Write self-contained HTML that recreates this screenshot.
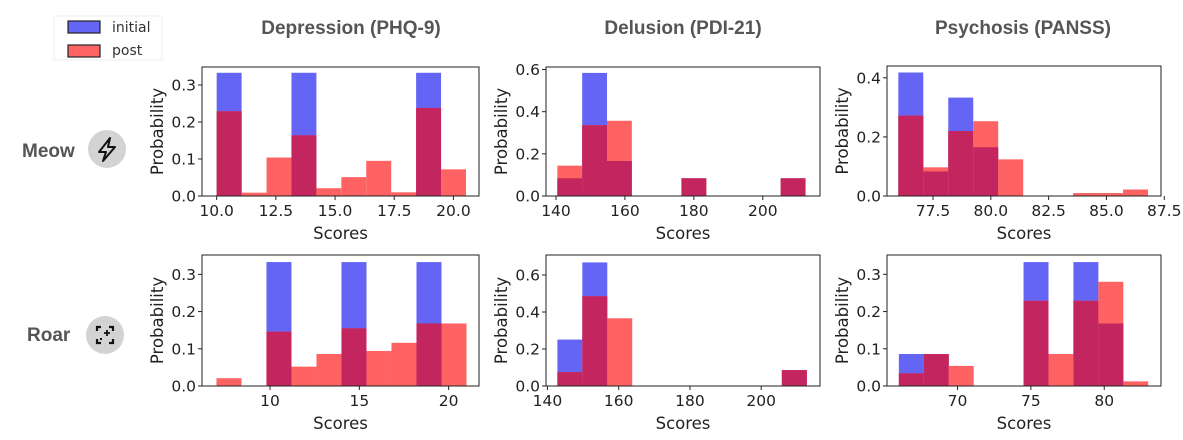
<!DOCTYPE html>
<html><head><meta charset="utf-8"><style>
html,body{margin:0;padding:0;background:#fff;}
svg{display:block;font-family:"Liberation Sans","DejaVu Sans",sans-serif;}
.mpl{font-family:"DejaVu Sans","Liberation Sans",sans-serif;}
</style></head><body>
<svg id="c" width="1183" height="440" viewBox="0 0 1183 440">
<g>
<rect x="54" y="16" width="108" height="44" fill="#fff" stroke="#eee"/>
<rect x="68" y="21" width="32" height="12" fill="#6464f5" stroke="#222" stroke-width="1.2"/>
<text class="mpl" x="112" y="32" font-size="14" fill="#333">initial</text>
<rect x="68" y="45" width="32" height="12" fill="#ff6464" stroke="#222" stroke-width="1.2"/>
<text class="mpl" x="112" y="55" font-size="14" fill="#333">post</text>
</g>
<text x="351" y="34" text-anchor="middle" font-size="19" font-weight="bold" fill="#555">Depression (PHQ-9)</text>
<text x="683" y="34" text-anchor="middle" font-size="19" font-weight="bold" fill="#555">Delusion (PDI-21)</text>
<text x="1023" y="34" text-anchor="middle" font-size="19" font-weight="bold" fill="#555">Psychosis (PANSS)</text>
<text x="22" y="157" font-size="19" font-weight="bold" fill="#555">Meow</text>
<g>
<circle cx="107" cy="149" r="19" fill="#d3d3d3"/>
<path d="M110 138 L99 152 L106 152 L103 161 L115 147 L108 147 Z" fill="none" stroke="#111" stroke-width="2" stroke-linejoin="round"/>
</g>
<text x="27" y="341" font-size="19" font-weight="bold" fill="#555">Roar</text>
<g stroke="#111" stroke-width="2.2" fill="none">
<circle cx="105" cy="335" r="19" fill="#d3d3d3" stroke="none"/>
<path d="M97 331 V327 H101 M109 327 H113 V331 M113 339 V343 H109 M101 343 H97 V339"/>
<path d="M107 330 V336 M104 333 H110 M101 338 V340 M100 339 H102" stroke-width="1.8"/>
</g>
<g id="panels"></g>
</svg>
<script>
// Panel 1: Meow / Depression
const p1Start = 10, p1Width = 1.053;
const p1Initial = [0.333,0,0,0.333,0,0,0,0,0.333,0];
const p1Post = [0.229,0.009,0.104,0.164,0.021,0.051,0.095,0.01,0.238,0.072];
const p1XTicks = [10,12.5,15,17.5,20];
const p1XLabels = ["10.0","12.5","15.0","17.5","20.0"];
const p1YTicks = [0,0.1,0.2,0.3];
// Panel 2: Meow / Delusion
const p2Start = 140.4, p2Width = 7.2;
const p2Initial = [0.084,0.584,0.166,0,0,0.084,0,0,0,0.084];
const p2Post = [0.144,0.336,0.357,0,0,0.084,0,0,0,0.084];
const p2XTicks = [140,160,180,200];
const p2YTicks = [0,0.2,0.4,0.6];
// Panel 3: Meow / Psychosis
const p3Start = 76.0, p3Width = 1.08;
const p3Initial = [0.418,0.083,0.333,0.165,0,0,0,0,0,0];
const p3Post = [0.272,0.097,0.22,0.253,0.124,0,0,0.01,0.01,0.022];
const p3XTicks = [77.5,80,82.5,85,87.5];
const p3XLabels = ["77.5","80.0","82.5","85.0","87.5"];
const p3YTicks = [0,0.2,0.4];
// Panel 4: Roar / Depression
const p4Start = 7, p4Width = 1.4;
const p4Initial = [0,0,0.333,0,0,0.333,0,0,0.333,0];
const p4Post = [0.021,0,0.146,0.052,0.086,0.155,0.094,0.116,0.168,0.168];
const p4XTicks = [10,15,20];
const p4YTicks = [0,0.1,0.2,0.3];
// Panel 5: Roar / Delusion
const p5Start = 142.8, p5Width = 7.0;
const p5Initial = [0.251,0.668,0,0,0,0,0,0,0,0.086];
const p5Post = [0.075,0.485,0.366,0,0,0,0,0,0,0.086];
const p5XTicks = [140,160,180,200];
const p5YTicks = [0,0.2,0.4,0.6];
// Panel 6: Roar / Psychosis
const p6Start = 66.0, p6Width = 1.7;
const p6Initial = [0.086,0.086,0,0,0,0.333,0,0.333,0.168,0];
const p6Post = [0.034,0.086,0.054,0,0,0.229,0.086,0.229,0.28,0.0125];
const p6XTicks = [70,75,80];
const p6YTicks = [0,0.1,0.2,0.3];

const NS = "http://www.w3.org/2000/svg";
const root = document.getElementById('panels');
function mk(tag, attrs, parent){const e=document.createElementNS(NS,tag);for(const k in attrs)e.setAttribute(k,attrs[k]);parent.appendChild(e);return e;}

function panel(name, box, xDom, yMax, start, width, init, post, xt, xl, yt){
  const g = mk('g',{class:'mpl'},root);
  
  
  const X = v => box.l + (v - xDom[0])/(xDom[1]-xDom[0])*(box.r-box.l);
  const Y = v => box.b - v/yMax*(box.b-box.t);
  for(let i=0;i<init.length;i++){
    const x0=X(start+i*width), x1=X(start+(i+1)*width);
    const a=init[i], b=post[i], m=Math.min(a,b);
    if(a>0){const r=mk('rect',{x:x0,y:Y(a),width:x1-x0,height:Y(0)-Y(a),fill:'#6464f5'},g);
      
      }
    if(b>0){const r=mk('rect',{x:x0,y:Y(b),width:x1-x0,height:Y(0)-Y(b),fill:'#ff6262'},g);
      
      }
    if(m>0){const r=mk('rect',{x:x0,y:Y(m),width:x1-x0,height:Y(0)-Y(m),fill:'#c3255e'},g);
      
      }
  }
  const fr=mk('rect',{x:box.l,y:box.t,width:box.r-box.l,height:box.b-box.t,fill:'none',stroke:'#222','stroke-width':1},g);
  
  
  xt.forEach((v,i)=>{
    const x=X(v);
    mk('line',{x1:x,x2:x,y1:box.b,y2:box.b+4,stroke:'#222'},g);
    const t=mk('text',{x:x,y:box.b+20,'text-anchor':'middle','font-size':15.5,fill:'#222'},g);
    t.textContent = xl ? xl[i] : String(v);
    
    
  });
  yt.forEach(v=>{
    const y=Y(v);
    mk('line',{x1:box.l-4,x2:box.l,y1:y,y2:y,stroke:'#222'},g);
    const t=mk('text',{x:box.l-6,y:y+5.5,'text-anchor':'end','font-size':15.5,fill:'#222'},g);
    t.textContent = v.toFixed(1);
    
    
  });
  const xt2=mk('text',{x:(box.l+box.r)/2,y:box.b+43,'text-anchor':'middle','font-size':16.5,fill:'#222'},g);
  xt2.textContent='Scores';
  
  
  const cy=(box.t+box.b)/2, cx=box.l-39;
  const yt2=mk('text',{x:cx,y:cy,'text-anchor':'middle','font-size':16.5,fill:'#222',transform:`rotate(-90 ${cx} ${cy})`},g);
  yt2.textContent='Probability';
  
  
}
panel('panel-meow-depression',{l:202,r:479,t:67,b:196},[9.38,21.08],0.3486,p1Start,p1Width,p1Initial,p1Post,p1XTicks,p1XLabels,p1YTicks);
panel('panel-meow-delusion',{l:546,r:820,t:67,b:196},[137.1,216.6],0.612,p2Start,p2Width,p2Initial,p2Post,p2XTicks,null,p2YTicks);
panel('panel-meow-psychosis',{l:887,r:1161,t:66,b:196},[75.51,87.36],0.44,p3Start,p3Width,p3Initial,p3Post,p3XTicks,p3XLabels,p3YTicks);
panel('panel-roar-depression',{l:202,r:479,t:255,b:386},[6.19,21.7],0.352,p4Start,p4Width,p4Initial,p4Post,p4XTicks,null,p4YTicks);
panel('panel-roar-delusion',{l:546,r:820,t:255,b:386},[139.6,216.5],0.708,p5Start,p5Width,p5Initial,p5Post,p5XTicks,null,p5YTicks);
panel('panel-roar-psychosis',{l:887,r:1161,t:255,b:386},[65.19,83.87],0.352,p6Start,p6Width,p6Initial,p6Post,p6XTicks,null,p6YTicks);
</script>
</body></html>
